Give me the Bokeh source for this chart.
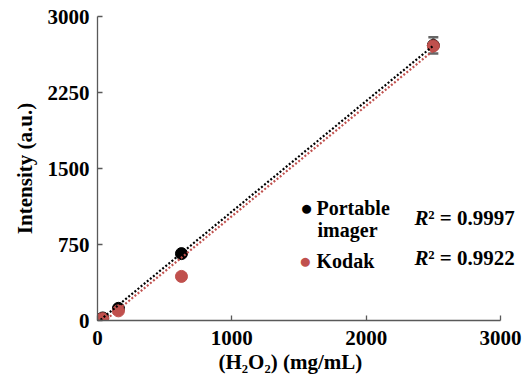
import numpy as np
from bokeh.plotting import figure
from bokeh.models import ColumnDataSource, Whisker, TeeHead, Label, FixedTicker, Title
from bokeh.embed import file_html
from bokeh.resources import INLINE

# Data
conc = [0, 9.8, 39, 156, 625, 2500]
portable = [0, 8, 25, 120, 660, 2715]
portable_err = [1, 2, 3, 8, 15, 80]
kodak = [0, 5, 18, 95, 435, 2710]

x_ticks = [0, 1000, 2000, 3000]
y_ticks = [0, 750, 1500, 2250, 3000]
series_names = ["Portable", "imager", "Kodak"]
r2_portable = "0.9997"
r2_kodak = "0.9922"
x_title = "(H\u2082O\u2082) (mg/mL)"
y_title = "Intensity (a.u.)"

BLACK = "#000000"
RED = "#c0504d"
FONT = "'Liberation Serif', 'Times New Roman', serif"
AX = "#595959"
FS = "21px"

# frame: x 0..3000 maps to 97..500 px; extend frame to the right edge so texts are not clipped
x_end = 3000 * (526 - 97) / 403.0

p = figure(width=526, height=382, output_backend="svg", toolbar_location=None,
           x_range=(0, x_end), y_range=(0, 3000),
           min_border_left=97, min_border_right=0, min_border_top=16, min_border_bottom=62)
p.outline_line_color = None
p.grid.grid_line_color = None
p.background_fill_color = "white"
p.border_fill_color = "white"

for ax in (p.xaxis[0], p.yaxis[0]):
    ax.axis_line_color = AX
    ax.axis_line_width = 1.3
    ax.major_tick_line_color = AX
    ax.major_tick_line_width = 1.3
    ax.major_tick_in = 5
    ax.major_tick_out = 0
    ax.minor_tick_line_color = None
    ax.major_label_text_font = FONT
    ax.major_label_text_font_style = "bold"
    ax.major_label_text_font_size = FS
    ax.major_label_text_color = "black"
    ax.axis_label_text_font = FONT
    ax.axis_label_text_font_style = "bold"
    ax.axis_label_text_font_size = FS
    ax.axis_label_text_color = "black"

p.xaxis.bounds = (0, 3000)
p.xaxis.ticker = FixedTicker(ticks=x_ticks)
p.yaxis.ticker = FixedTicker(ticks=y_ticks)
p.yaxis.axis_label = y_title
p.xaxis.major_label_standoff = 10
p.yaxis.major_label_standoff = 8
p.yaxis.axis_label_standoff = 8

# x-axis title under the 0..3000 span (frame is wider to the right)
p.add_layout(Title(text=x_title, align="left", offset=121, standoff=0,
                   text_font=FONT, text_font_style="bold", text_font_size=FS,
                   text_color="black"), "below")

src = ColumnDataSource(dict(x=conc, p=portable, k=kodak,
                            lo=[a - e for a, e in zip(portable, portable_err)],
                            hi=[a + e for a, e in zip(portable, portable_err)]))

p.scatter("x", "p", source=src, size=12, color=BLACK)
w = Whisker(base="x", lower="lo", upper="hi", source=src, line_color="#666666", line_width=2.5,
            upper_head=TeeHead(size=10, line_color="#666666", line_width=2.5),
            lower_head=TeeHead(size=10, line_color="#666666", line_width=2.5))
p.add_layout(w)
p.scatter("x", "k", source=src, size=12, color=RED)

# trend lines (linear least-squares fits of the data)
xa = np.array(conc, dtype=float)
xs = [xa.min(), xa.max()]
for ys, c in ((portable, BLACK), (kodak, RED)):
    m, b = np.polyfit(xa, np.array(ys, dtype=float), 1)
    p.line(xs, [m * v + b for v in xs], line_color=c, line_width=2.2, line_dash="2 2")

# legend (as text)
def txt(x, y, t, color="black", style="bold", size="20px", align="left"):
    p.add_layout(Label(x=x, y=y, text=t, text_font=FONT, text_font_style=style, text_color=color,
                       text_font_size=size, text_baseline="middle", text_align=align))

txt(1556, 1115, "\u25cf", color=BLACK, style="normal", size="21px", align="center")
txt(1548, 592, "\u25cf", color=RED, style="normal", size="21px", align="center")
txt(1630, 1115, series_names[0])
txt(1638, 898, series_names[1])
txt(1630, 592, series_names[2])

for ylab, val in ((1007, r2_portable), (612, r2_kodak)):
    txt(2360, ylab, "R", style="bold italic", size=FS)
    txt(2462, ylab, "\u00b2 = " + val, size=FS)

open("out.html", "w").write(file_html(p, INLINE))
